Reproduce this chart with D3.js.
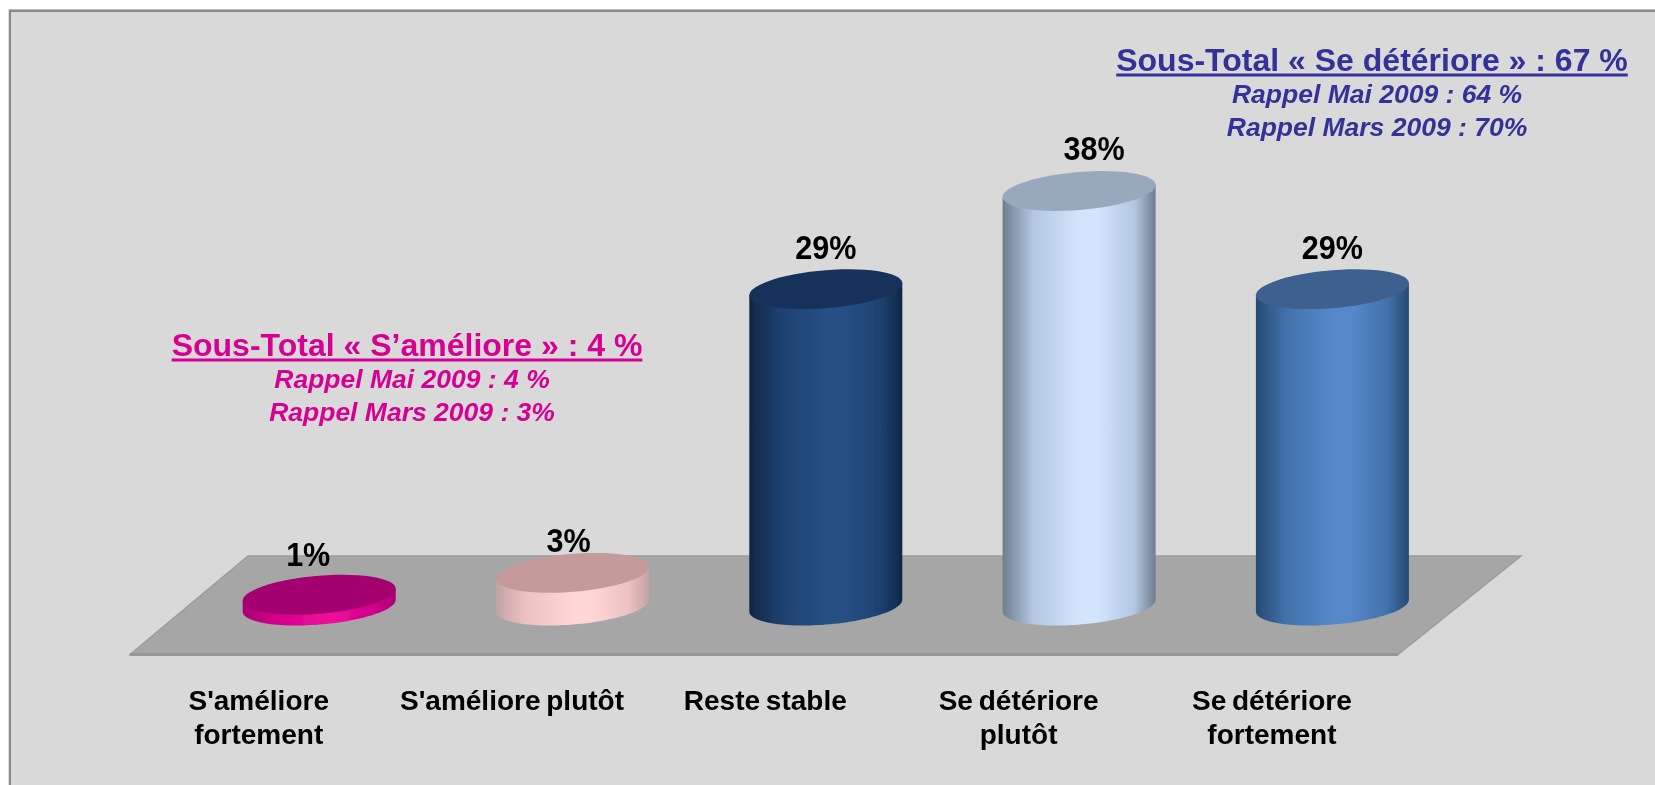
<!DOCTYPE html>
<html lang="fr">
<head>
<meta charset="utf-8">
<script src="https://cdn.jsdelivr.net/npm/d3@7"></script>
<style>
html,body{margin:0;padding:0;background:#fff;overflow:hidden}
svg{display:block}
text{font-family:"Liberation Sans",Arial,sans-serif;font-weight:bold}
</style>
</head>
<body>
<svg id="chart" width="1655" height="785"></svg>
<script>
const categories = ["S'améliore fortement", "S'améliore plutôt", "Reste stable", "Se détériore plutôt", "Se détériore fortement"];
const categoryLines = [["S'améliore", "fortement"], ["S'améliore plutôt"], ["Reste stable"], ["Se détériore", "plutôt"], ["Se détériore", "fortement"]];
const values = [1, 3, 29, 38, 29];
const valueLabels = ["1%", "3%", "29%", "38%", "29%"];
const topColors = ["#a30070", "#c49a9a", "#16325a", "#98a8bd", "#3c618e"];
const sideEdge = ["#a80072", "#c4a3a3", "#0f2745", "#6f7d8f", "#264a73"];
const sideMid = ["#d10089", "#eec2c2", "#1e416f", "#b4c7e0", "#4272aa"];
const sidePeak = ["#ec0a9a", "#ffd6d6", "#264f86", "#d2e5fd", "#5688ca"];
const labelShift = [-11, -4, 0, 15, 0];
const labelLift = [29, 21, 30.5, 31, 30.5];

const blueNote = ["Sous-Total « Se détériore » : 67 %", "Rappel Mai 2009 : 64 %", "Rappel Mars 2009 : 70%"];
const pinkNote = ["Sous-Total « S’améliore » : 4 %", "Rappel Mai 2009 : 4 %", "Rappel Mars 2009 : 3%"];

const svg = d3.select("#chart");
const defs = svg.append("defs");
defs.append("filter").attr("id", "soft").attr("filterUnits", "userSpaceOnUse")
  .attr("x", 0).attr("y", 0).attr("width", 1655).attr("height", 785)
  .append("feGaussianBlur").attr("stdDeviation", 0.55);

// panel
svg.append("rect").attr("x", 9).attr("y", 9.5).attr("width", 1700).attr("height", 820)
  .attr("fill", "none").attr("stroke", "#bdbdbd").attr("stroke-width", 1);
svg.append("rect").attr("x", 10).attr("y", 11).attr("width", 1700).attr("height", 820)
  .attr("fill", "#d9d9d9").attr("stroke", "#8a8a8a").attr("stroke-width", 2);

const root = svg.append("g").attr("filter", "url(#soft)");

// floor
root.append("polygon")
  .attr("points", [[130, 654.5], [248, 556], [1521, 556], [1398, 654.5]].join(" "))
  .attr("fill", "#a6a6a6").attr("stroke", "#9c9c9c").attr("stroke-width", 1.5);
root.append("line").attr("x1", 130).attr("x2", 1398).attr("y1", 654.5).attr("y2", 654.5)
  .attr("stroke", "#959595").attr("stroke-width", 3);

// scales
const x = d3.scalePoint().domain(categories).range([319.2, 1332.4]);
const y = d3.scaleLinear().domain([0, 38]).range([605.6, 191]);
const rx = 76.5, ryInner = 19, skew = 6;

const pt = (cx, cy, t) => [cx + rx * Math.cos(t), cy + ryInner * Math.sin(t) - skew * Math.cos(t)];
const arc = (cx, cy, a0, a1) => d3.range(0, 61).map(i => pt(cx, cy, a0 + (a1 - a0) * i / 60));
const line = d3.line();

categories.forEach((c, i) => {
  const g = defs.append("linearGradient").attr("id", "side" + i).attr("x1", 0).attr("x2", 1).attr("y1", 0).attr("y2", 0);
  [[0, sideEdge[i]], [0.2, sideMid[i]], [0.5, sidePeak[i]], [0.62, sidePeak[i]], [0.86, sideMid[i]], [1, sideEdge[i]]]
    .forEach(([o, col]) => g.append("stop").attr("offset", o).attr("stop-color", col));
});

const cyl = root.append("g").selectAll("g").data(categories).join("g");
cyl.append("path")
  .attr("fill", (d, i) => `url(#side${i})`)
  .attr("d", (d, i) => {
    const cx = x(d), top = y(values[i]), base = y(0);
    return line([...arc(cx, top, Math.PI, Math.PI), ...arc(cx, base, Math.PI, 0), ...arc(cx, top, 0, 0)]) + "Z";
  });
cyl.append("path")
  .attr("fill", (d, i) => topColors[i])
  .attr("d", (d, i) => line(arc(x(d), y(values[i]), 0, 2 * Math.PI)) + "Z");

// value labels
root.append("g").selectAll("text").data(categories).join("text")
  .attr("transform", (d, i) => `translate(${x(d) + labelShift[i]},${y(values[i]) - labelLift[i]}) scale(0.94,1)`)
  .attr("text-anchor", "middle").attr("font-size", 32.5).attr("fill", "#000")
  .text((d, i) => valueLabels[i]);

// category axis
const axisShift = -61;
const axis = root.append("g").attr("transform", `translate(${axisShift},690)`)
  .call(d3.axisBottom(x).tickSize(0).tickPadding(0));
axis.select(".domain").remove();
axis.selectAll(".tick text").each(function (d) {
  const t = d3.select(this).text(null).attr("font-size", 28).attr("fill", "#000")
    .attr("font-family", null).attr("y", 20).attr("dy", null)
    .style("word-spacing", "-2px");
  categoryLines[categories.indexOf(d)].forEach((s, k) => {
    t.append("tspan").attr("x", 0).attr("y", 20 + k * 33.5).text(s);
  });
}).style("font-family", '"Liberation Sans",Arial,sans-serif').style("font-weight", "bold");

// notes
function note(lines, color, cx, cxSub, baselines) {
  const g = root.append("g").attr("fill", color).attr("text-anchor", "middle");
  const head = g.append("text").attr("x", cx).attr("y", baselines[0]).attr("font-size", 32).text(lines[0]);
  const len = head.node().getComputedTextLength();
  g.append("rect").attr("x", cx - len / 2).attr("y", baselines[0] + 2.5).attr("width", len).attr("height", 3);
  g.append("text").attr("x", cxSub).attr("y", baselines[1]).attr("font-size", 26.5).attr("font-style", "italic").text(lines[1]);
  g.append("text").attr("x", cxSub).attr("y", baselines[2]).attr("font-size", 26.5).attr("font-style", "italic").text(lines[2]);
}
note(blueNote, "#333399", 1372, 1377, [71, 103, 136]);
note(pinkNote, "#d60093", 407, 412, [356, 388, 421]);
</script>
</body>
</html>
